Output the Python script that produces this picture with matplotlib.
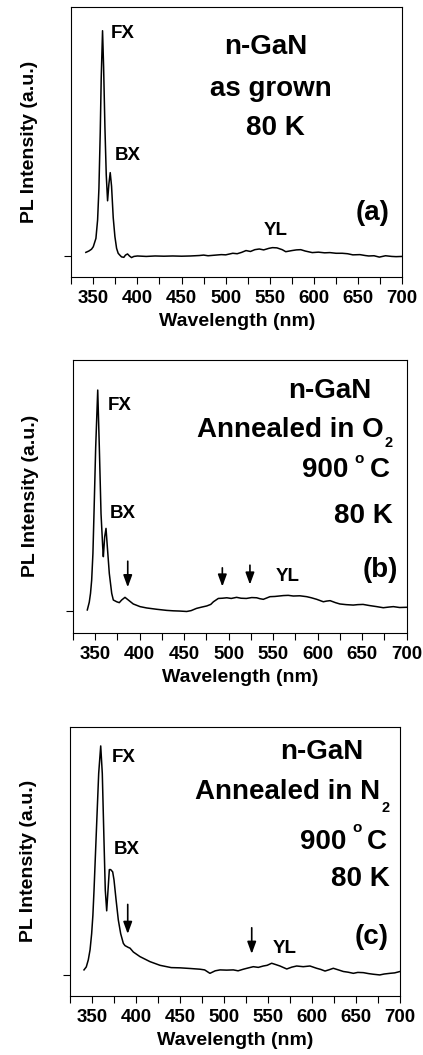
import matplotlib
matplotlib.use("Agg")
import matplotlib.pyplot as plt

plt.rcParams['font.family'] = ['Liberation Sans', 'DejaVu Sans']
plt.rcParams['font.weight'] = 'bold'

# (a) as grown
wl_a = [341.6, 345, 348, 350, 353, 354.9, 356.4, 357.9, 359, 360.5, 361.7, 363.2, 364.7, 366.2,
        367.7, 369.2, 370.7, 372.6, 374.5, 376.4, 378.2, 380, 382, 384.6, 386.5, 388.8, 391,
        393.3, 396, 400, 410, 420, 430, 440, 450, 460, 470, 475, 480, 489, 495, 500, 508, 513,
        518, 523, 528, 533, 538, 543, 549, 553, 558, 564, 568, 575, 580, 585, 590, 598, 605,
        612, 618, 625, 632, 638, 644, 652, 658, 662, 668, 674, 681, 688, 693, 700]
pl_a = [0.016, 0.022, 0.03, 0.041, 0.078, 0.16, 0.3, 0.55, 0.79, 1.0, 0.84, 0.57, 0.36, 0.245,
        0.32, 0.37, 0.31, 0.17, 0.086, 0.034, 0.012, 0.004, -0.004, -0.006, 0.004, 0.009, 0.0,
        -0.007, -0.002, 0.0, -0.002, 0.0, -0.001, 0.0, -0.001, 0.0, 0.002, 0.004, 0.001, 0.004,
        0.006, 0.005, 0.012, 0.01, 0.016, 0.024, 0.02, 0.028, 0.031, 0.027, 0.034, 0.037, 0.036,
        0.028, 0.019, 0.024, 0.027, 0.028, 0.022, 0.015, 0.017, 0.014, 0.015, 0.012, 0.012,
        0.01, 0.005, 0.006, 0.002, 0.0, 0.001, -0.005, 0.001, -0.002, -0.003, -0.002]

# (b) annealed in O2
wl_b = [341.4, 343.6, 345, 346.3, 347.7, 348.9, 350.8, 353.1, 354.9, 356.8, 358.7, 359.4,
        360.9, 362.4, 363.9, 366.1, 368.8, 370.6, 374.4, 377.3, 380, 383.7, 387.4, 393, 400.6,
        408, 419.3, 430.5, 438, 445, 453, 458, 464, 470, 475.5, 480, 483, 488.5, 493, 498, 503,
        509, 514, 520, 526, 531.6, 535, 539, 546.5, 552, 561.5, 567, 572.7, 580, 587.7, 593, 599,
        606.4, 610, 614, 620, 625, 632, 640, 645, 651, 658, 666.3, 673.7, 680, 685, 692, 700]
pl_b = [0.005, 0.04, 0.08, 0.14, 0.26, 0.44, 0.74, 1.0, 0.74, 0.44, 0.29, 0.246,
        0.336, 0.374, 0.29, 0.17, 0.08, 0.05, 0.042, 0.038, 0.05, 0.062, 0.05, 0.032, 0.02,
        0.014, 0.008, 0.003, 0.001, 0.0, -0.002, 0.002, 0.012, 0.018, 0.023, 0.03, 0.042, 0.057,
        0.058, 0.06, 0.057, 0.062, 0.058, 0.057, 0.061, 0.06, 0.056, 0.053, 0.065, 0.066, 0.07,
        0.071, 0.068, 0.069, 0.065, 0.06, 0.053, 0.042, 0.045, 0.047, 0.038, 0.032, 0.029,
        0.027, 0.029, 0.03, 0.025, 0.02, 0.015, 0.018, 0.02, 0.016, 0.017]

# (c) annealed in N2
wl_c = [340.9, 343.5, 345.8, 347.8, 349.6, 351, 352.3, 355.3, 357.6, 359.9, 361.7, 363.6,
        365.1, 366.7, 368.2, 369.7, 371.2, 373.5, 375, 377.3, 379.9, 382.6, 385.6, 387.5, 389.4,
        391.3, 393.2, 397, 404.5, 415.9, 427.3, 440, 450, 462, 472.7, 478, 484, 490, 495.5, 503,
        510.6, 516, 522, 527, 533.3, 539, 544.7, 549, 554.2, 559, 563.6, 571.3, 577, 582.6, 590,
        597.7, 605.3, 610, 614.8, 619, 624.2, 630, 635.6, 641, 647, 652, 658.3, 664, 669.7, 677,
        682, 688.6, 694, 700]
pl_c = [0.022, 0.035, 0.066, 0.11, 0.18, 0.26, 0.37, 0.66, 0.88, 1.0, 0.88, 0.59,
        0.37, 0.28, 0.37, 0.46, 0.46, 0.45, 0.415, 0.33, 0.24, 0.18, 0.138, 0.128, 0.124,
        0.12, 0.117, 0.10, 0.08, 0.058, 0.042, 0.032, 0.031, 0.028, 0.025, 0.022, 0.007, 0.018,
        0.022, 0.021, 0.022, 0.018, 0.025, 0.03, 0.036, 0.033, 0.039, 0.042, 0.051, 0.045,
        0.039, 0.026, 0.034, 0.039, 0.036, 0.039, 0.029, 0.024, 0.017, 0.022, 0.029, 0.022,
        0.015, 0.012, 0.007, 0.011, 0.01, 0.006, 0.003, 0.0, 0.004, 0.007, 0.009, 0.015]

# arrows: (wavelength, tail, tip)
arrows_b = [(386.8, 0.238, 0.095), (493, 0.208, 0.098), (524, 0.22, 0.107)]
arrows_c = [(390.6, 0.32, 0.167), (531.5, 0.218, 0.08)]

W, H = 423, 1055
fig = plt.figure(figsize=(W / 100, H / 100), dpi=100)


def px_axes(left, top, right, bottom):
    return fig.add_axes([left / W, 1 - bottom / H, (right - left) / W, (bottom - top) / H])


def setup(ax, ylo, yhi):
    ax.set_xlim(325, 700)
    ax.set_ylim(ylo, yhi)
    ax.set_xticks(range(350, 701, 50))
    ax.set_xticks(range(325, 701, 25), minor=True)
    ax.set_yticks([0])
    ax.set_yticklabels([])
    ax.tick_params(axis='both', which='both', direction='out', length=5, width=0.8,
                   top=False, right=False, labelsize=13.5, pad=4.5)
    for s in ax.spines.values():
        s.set_linewidth(0.8)
    ax.set_xlabel('Wavelength (nm)', fontsize=14, fontweight='bold', labelpad=4.5)
    ax.set_ylabel('PL Intensity (a.u.)', fontsize=14, fontweight='bold', labelpad=14.5)


def deg_c(ax, x900, xo, xc, base, obase):
    ax.text(x900, base, '900', fontsize=big, ha='right', va='baseline')
    ax.text(xo, obase, 'o', fontsize=11, ha='left', va='baseline')
    ax.text(xc, base, 'C', fontsize=big, ha='right', va='baseline')


def arrows(ax, items):
    for x, y0, y1 in items:
        ax.annotate('', xy=(x, y1), xytext=(x, y0),
                    arrowprops=dict(arrowstyle='-|>,head_length=0.6,head_width=0.22',
                                    color='black', lw=1.2, mutation_scale=12))


big = 20
small = 13.5

# panel (a)
ax = px_axes(71.2, 7.3, 402.3, 276.7)
setup(ax, -0.092, 1.104)
ax.plot(wl_a, pl_a, color='black', lw=1.1)
ax.text(383.1, 0.988, 'FX', fontsize=small, ha='center', va='center')
ax.text(389.5, 0.448, 'BX', fontsize=small, ha='center', va='center')
ax.text(556.2, 0.111, 'YL', fontsize=small, ha='center', va='center')
ax.text(666.1, 0.19, '(a)', fontsize=big, ha='center', va='center')
ax.text(545.7, 0.897, 'n-GaN', fontsize=big, ha='center', va='baseline')
ax.text(551.4, 0.71, 'as grown', fontsize=big, ha='center', va='baseline')
ax.text(556.2, 0.537, '80 K', fontsize=big, ha='center', va='baseline')

# panel (b)
ax = px_axes(72.7, 360, 406.7, 632.7)
setup(ax, -0.098, 1.136)
ax.plot(wl_b, pl_b, color='black', lw=1.1)
ax.text(378.1, 0.928, 'FX', fontsize=small, ha='center', va='center')
ax.text(381.1, 0.442, 'BX', fontsize=small, ha='center', va='center')
ax.text(565.9, 0.155, 'YL', fontsize=small, ha='center', va='center')
ax.text(670, 0.186, '(b)', fontsize=big, ha='center', va='center')
ax.text(613.9, 0.962, 'n-GaN', fontsize=big, ha='center', va='baseline')
ax.text(673.7, 0.789, 'Annealed in O', fontsize=big, ha='right', va='baseline')
ax.text(675.6, 0.742, '2', fontsize=10.5, ha='left', va='baseline')
deg_c(ax, 634.1, 640.8, 681.2, 0.608, 0.668)
ax.text(684.6, 0.397, '80 K', fontsize=big, ha='right', va='baseline')
arrows(ax, arrows_b)

# panel (c)
ax = px_axes(70, 726.7, 400, 996)
setup(ax, -0.092, 1.084)
ax.plot(wl_c, pl_c, color='black', lw=1.1)
ax.text(385.6, 0.951, 'FX', fontsize=small, ha='center', va='center')
ax.text(389.4, 0.546, 'BX', fontsize=small, ha='center', va='center')
ax.text(569.3, 0.117, 'YL', fontsize=small, ha='center', va='center')
ax.text(667.8, 0.167, '(c)', fontsize=big, ha='center', va='center')
ax.text(611, 0.942, 'n-GaN', fontsize=big, ha='center', va='baseline')
ax.text(677.3, 0.767, 'Annealed in N', fontsize=big, ha='right', va='baseline')
ax.text(679.2, 0.713, '2', fontsize=10.5, ha='left', va='baseline')
deg_c(ax, 639.4, 645.5, 685.2, 0.549, 0.625)
ax.text(688.6, 0.389, '80 K', fontsize=big, ha='right', va='baseline')
arrows(ax, arrows_c)

fig.savefig('out.png', dpi=100)
